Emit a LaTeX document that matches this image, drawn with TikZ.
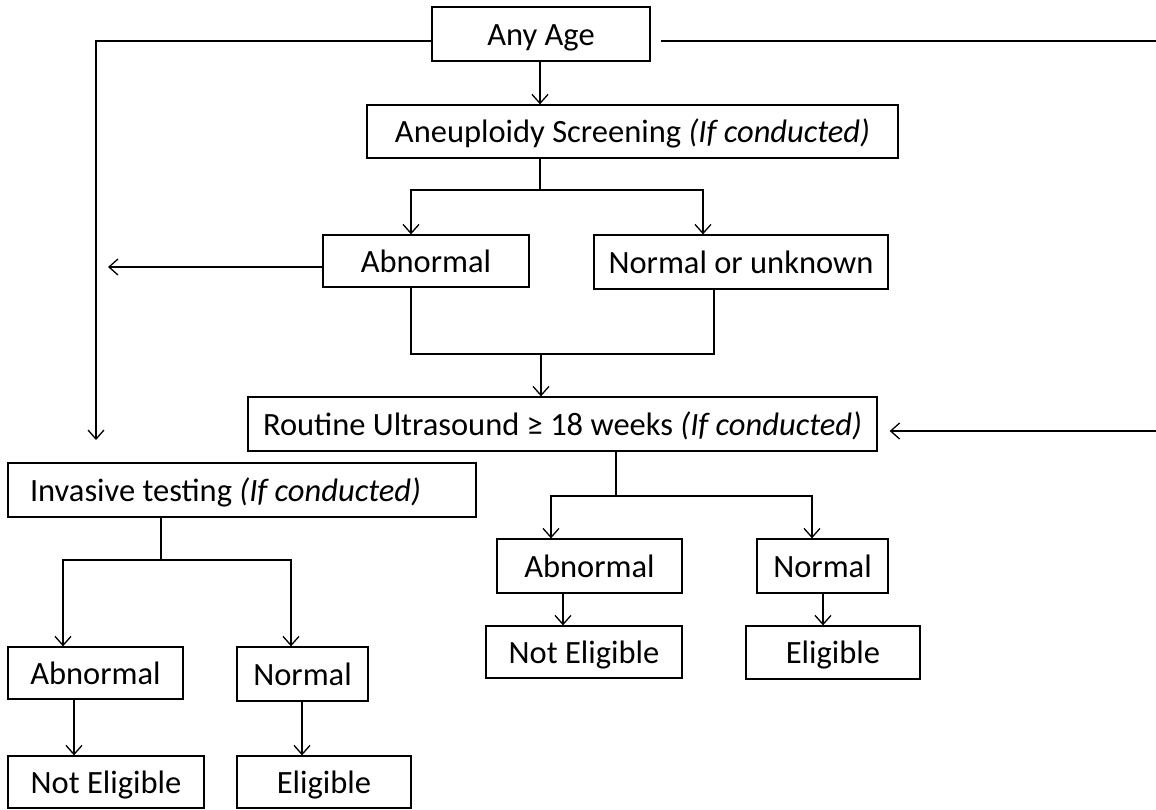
\documentclass[tikz,border=0pt]{standalone}
\usepackage{fontspec}
\setmainfont{Carlito}
\usepackage{tikz}
\usetikzlibrary{arrows.meta}
\tikzset{
    box/.style={draw,line width=1.3pt,minimum height=53pt,inner sep=0pt,text height=25pt,text depth=3pt,font=\fontsize{32.5}{38}\selectfont},
    link/.style={line width=1.3pt},
    arrow/.style={link,-{Straight Barb[length=9pt,width=16pt,line width=1.3pt]}}
}

\begin{document}
\begin{tikzpicture}[x=1pt,y=-1pt]
    \useasboundingbox (0,0) rectangle (1156,809);
    % top part
    \node[box,minimum width=218pt,minimum height=54pt] (AnyAge) at (541,34) {Any Age};
    \node[box,minimum width=531pt] (Aneu) at (632.5,131.5) {Aneuploidy Screening \textit{(If conducted)}};
    \node[box,minimum width=206pt,minimum height=52pt] (AbnA) at (426,261) {Abnormal};
    \node[box,minimum width=294pt,minimum height=54pt] (NormU) at (741,262) {Normal or unknown};
    \node[box,minimum width=629pt,minimum height=54pt] (Routine) at (562.5,424) {Routine Ultrasound ≥ 18 weeks \textit{(If conducted)}};
    % invasive branch
    \node[box,text width=424pt,inner xsep=22pt,minimum height=54pt,align=flush left] (Invasive) at (242,490) {Invasive testing \textit{(If conducted)}};
    \node[box,minimum width=175pt,minimum height=52pt] (AbnI) at (95.5,673) {Abnormal};
    \node[box,minimum width=131pt,minimum height=54pt] (NormI) at (302.5,674) {Normal};
    \node[box,minimum width=196pt,minimum height=52pt] (NotEI) at (106,782) {Not Eligible};
    \node[box,minimum width=174pt,minimum height=52pt] (EligI) at (324,782) {Eligible};
    % ultrasound branch
    \node[box,minimum width=185pt,minimum height=54pt] (AbnR) at (589.5,566) {Abnormal};
    \node[box,minimum width=131pt,minimum height=54pt] (NormR) at (822.5,566) {Normal};
    \node[box,minimum width=196pt,minimum height=52pt] (NotER) at (584,652) {Not Eligible};
    \node[box,minimum width=174pt] (EligR) at (833,652.5) {Eligible};

    % junctions and free ends
    \coordinate (invTip) at (96,440);
    \coordinate (abnTip) at (108,267);
    \coordinate (rightTop) at (1156,41);
    \coordinate (rightMid) at (1156,431);
    \coordinate (j1) at (540,190);
    \coordinate (j2) at (541,354);
    \coordinate (j3) at (616,496);
    \coordinate (j4) at (161,560);

    \draw[arrow] ([xshift=-1pt]AnyAge.south) -- ([xshift=-1pt]AnyAge.south |- Aneu.north);
    \draw[arrow] ([yshift=-7pt]AnyAge.west) -| (invTip);
    \draw[link] ([xshift=10pt,yshift=-7pt]AnyAge.east) -- (rightTop);
    \draw[arrow] (rightMid) -- ([xshift=12pt]Routine.east |- rightMid);

    \draw[link] (Aneu.south -| j1) -- (j1);
    \draw[arrow] (j1) -| ([xshift=-15pt]AbnA.north);
    \draw[arrow] (j1) -| ([xshift=-38pt]NormU.north);
    \draw[arrow] ([yshift=-6pt]AbnA.west) -- ([yshift=-6pt]AbnA.west -| abnTip);
    \draw[link] ([xshift=-15pt]AbnA.south) |- (j2) -| ([xshift=-27pt]NormU.south);
    \draw[arrow] (j2) -- (j2 |- Routine.north);

    \draw[link] (Routine.south -| j3) -- (j3);
    \draw[arrow] (j3) -| ([xshift=-38.5pt]AbnR.north);
    \draw[arrow] (j3) -| ([xshift=-10.5pt]NormR.north);
    \draw[arrow] ([xshift=-26.5pt]AbnR.south) -- ([xshift=-26.5pt]AbnR.south |- NotER.north);
    \draw[arrow] ([xshift=0.5pt]NormR.south) -- ([xshift=0.5pt]NormR.south |- EligR.north);

    \draw[link] (Invasive.south -| j4) -- (j4);
    \draw[arrow] (j4) -| ([xshift=-32.5pt]AbnI.north);
    \draw[arrow] (j4) -| ([xshift=-11.5pt]NormI.north);
    \draw[arrow] ([xshift=-21.5pt]AbnI.south) -- ([xshift=-21.5pt]AbnI.south |- NotEI.north);
    \draw[arrow] ([xshift=-0.5pt]NormI.south) -- ([xshift=-0.5pt]NormI.south |- EligI.north);
\end{tikzpicture}
\end{document}
